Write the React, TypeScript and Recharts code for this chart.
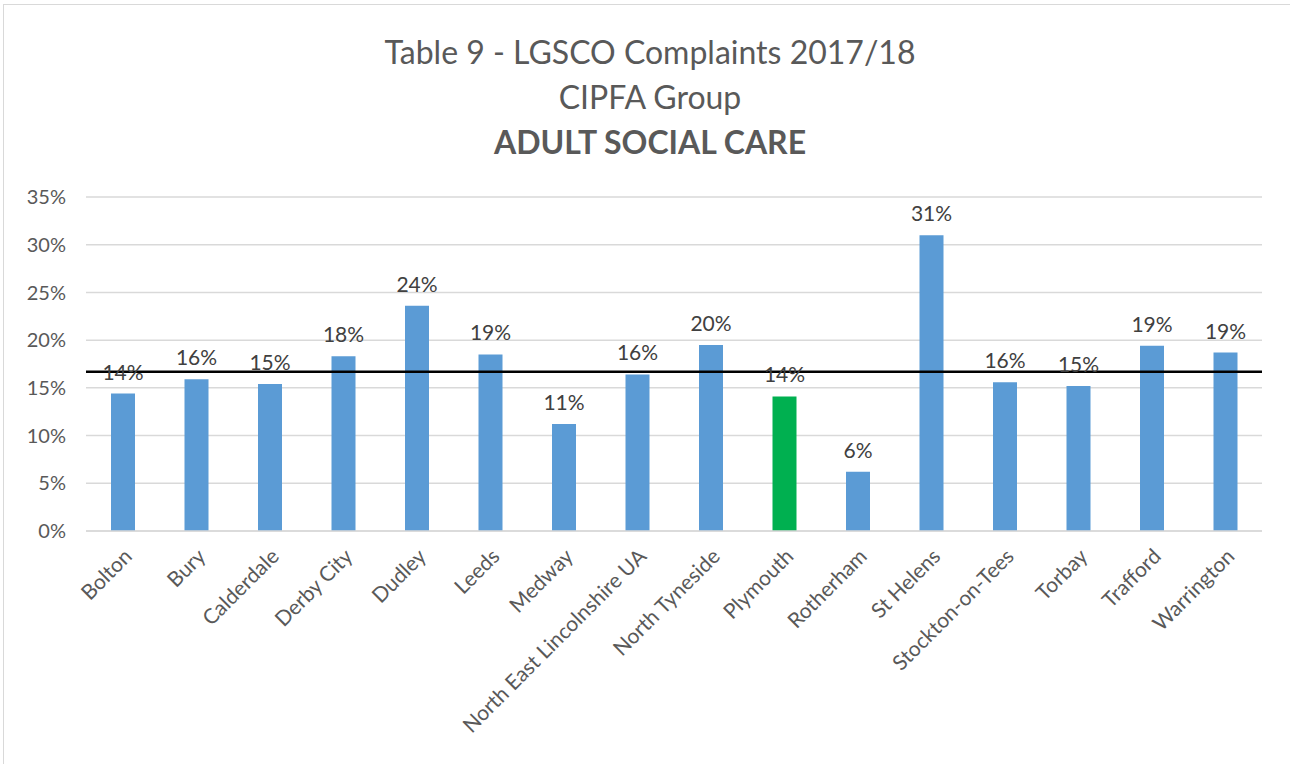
import { BarChart, Bar, XAxis, YAxis, CartesianGrid, ReferenceLine, LabelList, Cell } from "recharts";

const councils = [
  "Bolton",
  "Bury",
  "Calderdale",
  "Derby City",
  "Dudley",
  "Leeds",
  "Medway",
  "North East Lincolnshire UA",
  "North Tyneside",
  "Plymouth",
  "Rotherham",
  "St Helens",
  "Stockton-on-Tees",
  "Torbay",
  "Trafford",
  "Warrington",
];

// percentage of complaints
const complaintPct = [14.4, 15.9, 15.4, 18.3, 23.6, 18.5, 11.2, 16.4, 19.5, 14.1, 6.2, 31.0, 15.6, 15.2, 19.4, 18.7];

const groupAverage = 16.7;
const highlighted = "Plymouth";
const yTicks = [0, 5, 10, 15, 20, 25, 30, 35];

const FONT = "Lato, 'Open Sans', sans-serif";

const data = councils.map((name, i) => ({ name, value: complaintPct[i] }));

function AngledTick({ x, y, payload }: any) {
  return (
    <g transform={`translate(${x - 5},${y + 6})`}>
      <text
        x={0}
        y={0}
        dy={20}
        dx={2}
        textAnchor="end"
        transform="rotate(-45)"
        fill="#595959"
        fontSize={21}
        fontFamily={FONT}
      >
        {payload.value}
      </text>
    </g>
  );
}

export default function App() {
  return (
    <div
      style={{
        position: "absolute",
        left: 0,
        top: 0,
        width: 1290,
        height: 764,
        background: "#fff",
        fontFamily: FONT,
      }}
    >
      <div
        style={{
          position: "absolute",
          left: 3,
          top: 4,
          width: 1287,
          height: 760,
          borderLeft: "1.5px solid #d9d9d9",
          borderTop: "1.5px solid #d9d9d9",
        }}
      />
      <div style={{ position: "absolute", top: 29, left: 0, width: 1300, textAlign: "center", color: "#595959" }}>
        <div style={{ fontSize: 32, lineHeight: "45px" }}>Table 9 - LGSCO Complaints 2017/18</div>
        <div style={{ fontSize: 32, lineHeight: "45px" }}>CIPFA Group</div>
        <div style={{ fontSize: 32, lineHeight: "45px", fontWeight: 700 }}>ADULT SOCIAL CARE</div>
      </div>
      <BarChart
        width={1290}
        height={764}
        data={data}
        margin={{ top: 197, right: 28, bottom: 0, left: 0 }}
        style={{ position: "absolute", left: 0, top: 0 }}
      >
        <CartesianGrid vertical={false} stroke="#d9d9d9" strokeWidth={1.5} />
        <XAxis
          dataKey="name"
          interval={0}
          height={233}
          tickLine={false}
          axisLine={{ stroke: "#d9d9d9", strokeWidth: 1.5 }}
          tick={<AngledTick />}
        />
        <YAxis
          width={86}
          domain={[0, 35]}
          ticks={yTicks}
          tickFormatter={(v) => `${v}%`}
          axisLine={false}
          tickLine={false}
          tickSize={0}
          tickMargin={20}
          tick={{ fill: "#595959", fontSize: 20, fontFamily: FONT }}
        />
        <Bar dataKey="value" barSize={24} isAnimationActive={false}>
          {data.map((d) => (
            <Cell key={d.name} fill={d.name === highlighted ? "#00b050" : "#5b9bd5"} />
          ))}
          <LabelList
            dataKey="value"
            position="top"
            offset={14}
            formatter={(v: any) => `${Math.round(v)}%`}
            style={{ fill: "#404040", fontSize: 21, fontFamily: FONT }}
          />
        </Bar>
        <ReferenceLine y={groupAverage} stroke="#000" strokeWidth={2.5} />
      </BarChart>
    </div>
  );
}
